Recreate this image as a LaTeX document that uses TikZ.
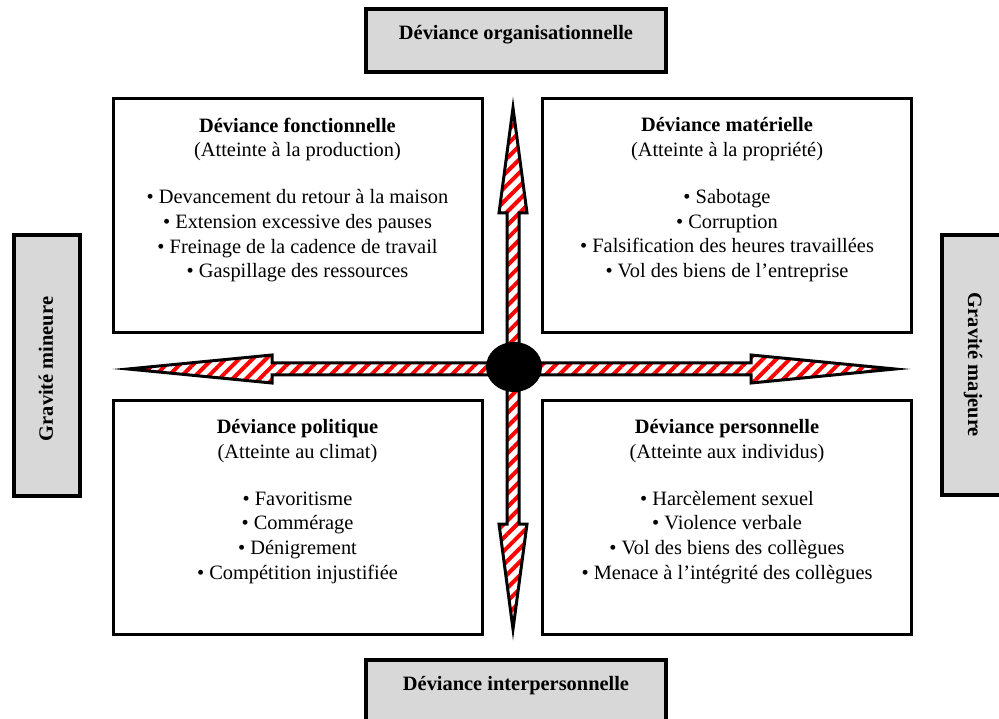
\documentclass[tikz,border=0pt]{standalone}
\usepackage{fontspec}
\setmainfont{Liberation Serif}
\usetikzlibrary{calc,patterns.meta}
\definecolor{boxgray}{HTML}{D8D8D8}
\definecolor{stripe}{HTML}{FF0000}
\newcommand{\bigfont}{\fontsize{20.4}{24.7}\selectfont}

\begin{document}
\begin{tikzpicture}[x=1pt,y=-1pt,
  quadbox/.style={draw,line width=3pt,inner sep=0pt,minimum width=369pt,minimum height=234pt},
  graybox/.style={draw,fill=boxgray,line width=4pt,inner sep=0pt},
  qtext/.style={align=center,anchor=north,inner sep=0pt,font=\bigfont},
  sidetext/.style={inner sep=0pt,font=\bigfont\bfseries},
  hatched/.style={draw,line width=3pt,line join=miter,miter limit=25,
    pattern={Lines[angle=45,distance=9.5pt,line width=4pt]},pattern color=stripe}]
\clip (0,0) rectangle (999,719);
% axis labels
\node[graybox,minimum width=300pt,minimum height=63pt] (orga) at (516,40.5) {};
\node[sidetext] (orgatxt) at (516,35) {Déviance organisationnelle};
\node[graybox,minimum width=300pt,minimum height=67pt] (inter) at (516,693.5) {};
\node[sidetext] (intertxt) at (516,686) {Déviance interpersonnelle};
\node[graybox,minimum width=66pt,minimum height=261pt] (mineure) at (47,365.5) {};
\node[sidetext,rotate=90] (minetxt) at (46,369) {Gravité mineure};
\node[graybox,minimum width=66pt,minimum height=260pt] (majeure) at (975,365) {};
\node[sidetext,rotate=-90] (majtxt) at (973,365) {Gravité majeure};
% quadrants
\node[quadbox] (fonc) at (297.5,216) {};
\node[quadbox] (mat) at (727,216) {};
\node[quadbox] (poli) at (297.5,517.5) {};
\node[quadbox] (pers) at (727,517.5) {};
\node[qtext] (fonctxt) at ($(fonc.north)+(0,20)$) {\textbf{Déviance fonctionnelle}\\(Atteinte à la production)\\[22.3pt]
  • Devancement du retour à la maison\\• Extension excessive des pauses\\• Freinage de la cadence de travail\\• Gaspillage des ressources};
\node[qtext] (mattxt) at ($(mat.north)+(0,20)$) {\textbf{Déviance matérielle}\\(Atteinte à la propriété)\\[22.3pt]
  • Sabotage\\• Corruption\\• Falsification des heures travaillées\\• Vol des biens de l’entreprise};
\node[qtext] (politxt) at ($(poli.north)+(0,20)$) {\textbf{Déviance politique}\\(Atteinte au climat)\\[22.3pt]
  • Favoritisme\\• Commérage\\• Dénigrement\\• Compétition injustifiée};
\node[qtext] (perstxt) at ($(pers.north)+(0,20)$) {\textbf{Déviance personnelle}\\(Atteinte aux individus)\\[22.3pt]
  • Harcèlement sexuel\\• Violence verbale\\• Vol des biens des collègues\\• Menace à l’intégrité des collègues};
% axes
\coordinate (N) at (513,108);
\coordinate (S) at (513,629);
\coordinate (W) at (128,369);
\coordinate (E) at (895,369);
\draw[hatched] (N) -- ++(14,105) -- ++(-8,0) -- ($(S)+(6,-105)$) -- ++(8,0) -- (S)
  -- ++(-14,-105) -- ++(8,0) -- ($(N)+(-6,105)$) -- ++(-8,0) -- cycle;
\draw[hatched] (W) -- ++(144,-14) -- ++(0,8) -- ($(E)+(-144,-6)$) -- ++(0,-8) -- (E)
  -- ++(-144,14) -- ++(0,-8) -- ($(W)+(144,6)$) -- ++(0,8) -- cycle;
\fill (514,367) ellipse (28 and 25);
\end{tikzpicture}
\end{document}
